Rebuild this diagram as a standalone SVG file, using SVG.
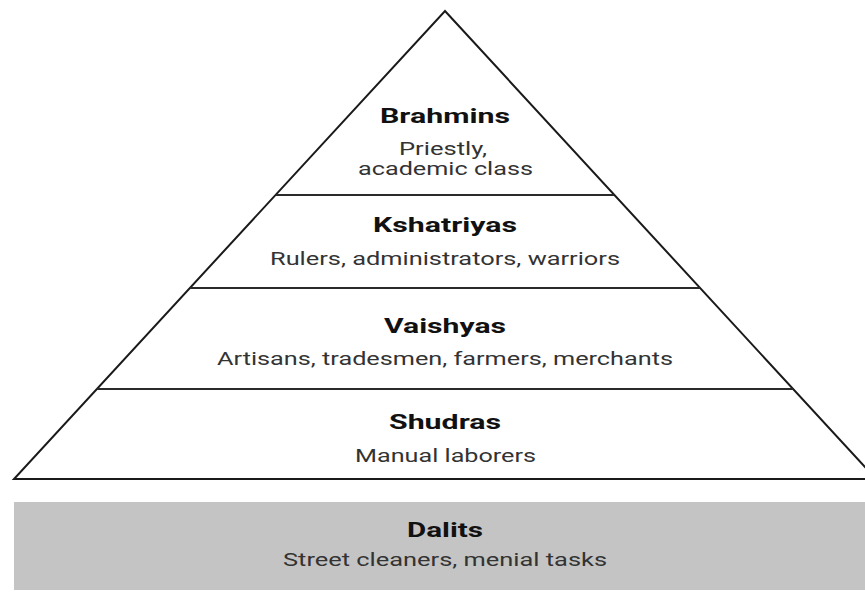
<svg xmlns="http://www.w3.org/2000/svg" width="865" height="592" viewBox="0 0 865 592">
<style>
.edge{stroke:#1a1a1a;stroke-width:2;fill:none}
.div{stroke:#2a2a2a;stroke-width:2}
.t{font-family:Roboto,"Liberation Sans",sans-serif;font-weight:bold;font-size:21px;fill:#111}
.s{font-family:Roboto,"Liberation Sans",sans-serif;font-size:18px;fill:#333}
</style>
<rect x="0" y="0" width="865" height="592" fill="#fff"/>
<g id="pyramid">
<polygon class="edge" points="445,11 876,479 14,479"/>
</g>
<g id="connectors">
<line class="div" x1="276" y1="195" x2="614" y2="195"/>
<line class="div" x1="190" y1="288" x2="700" y2="288"/>
<line class="div" x1="97" y1="389" x2="793" y2="389"/>
</g>
<g id="brahmins">
<text class="t" x="380" y="123" textLength="130" lengthAdjust="spacingAndGlyphs">Brahmins</text>
<text class="s" x="399" y="155" textLength="88" lengthAdjust="spacingAndGlyphs">Priestly,</text>
<text class="s" x="358" y="175" textLength="175" lengthAdjust="spacingAndGlyphs">academic class</text>
</g>
<g id="kshatriyas">
<text class="t" x="373" y="232" textLength="144" lengthAdjust="spacingAndGlyphs">Kshatriyas</text>
<text class="s" x="270" y="265" textLength="350" lengthAdjust="spacingAndGlyphs">Rulers, administrators, warriors</text>
</g>
<g id="vaishyas">
<text class="t" x="384" y="333" textLength="122" lengthAdjust="spacingAndGlyphs">Vaishyas</text>
<text class="s" x="217" y="365" textLength="456" lengthAdjust="spacingAndGlyphs">Artisans, tradesmen, farmers, merchants</text>
</g>
<g id="shudras">
<text class="t" x="389" y="429" textLength="112" lengthAdjust="spacingAndGlyphs">Shudras</text>
<text class="s" x="355" y="462" textLength="181" lengthAdjust="spacingAndGlyphs">Manual laborers</text>
</g>
<g id="dalits">
<rect x="14" y="502" width="851" height="88" fill="#c4c4c4"/>
<text class="t" x="407" y="537" textLength="76" lengthAdjust="spacingAndGlyphs">Dalits</text>
<text class="s" x="283" y="566" textLength="324" lengthAdjust="spacingAndGlyphs">Street cleaners, menial tasks</text>
</g>
</svg>
